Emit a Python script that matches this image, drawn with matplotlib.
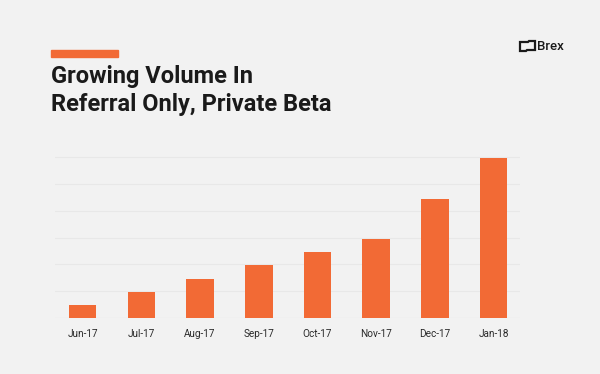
import matplotlib.pyplot as plt
from matplotlib.patches import Rectangle, Polygon

# monthly volume, in grid units
months = ['Jun-17', 'Jul-17', 'Aug-17', 'Sep-17', 'Oct-17', 'Nov-17', 'Dec-17', 'Jan-18']
volume = [0.47, 0.97, 1.46, 1.98, 2.46, 2.96, 4.45, 5.98]
gridlevels = [0, 1, 2, 3, 4, 5, 6]

bg = '#f2f2f2'
orange = '#f26a35'

fig = plt.figure(figsize=(6, 3.74), dpi=100, facecolor=bg)

# plot area: x 55..520 px, baseline at y=318, top grid at 157
ax = fig.add_axes([55 / 600, (374 - 318) / 374, 465 / 600, (318 - 157) / 374 * 7 / 6])
ax.set_facecolor(bg)
ax.bar(range(len(months)), volume, width=0.47, color=orange, zorder=3)
for g in gridlevels:
    ax.axhline(g, color='#e8e8e8' if g else '#dedede', lw=0.8, zorder=1)
ax.set_xlim(-0.47, 7.45)
ax.set_ylim(0, 7)
ax.set_xticks(range(len(months)))
ax.set_xticklabels(months, fontsize=7.2, color='#2a2a2a', family='Roboto')
ax.tick_params(axis='x', length=0, pad=8)
ax.set_yticks([])
for s in ax.spines.values():
    s.set_visible(False)

# title block
fig.patches.append(Rectangle((51 / 600, 1 - 57 / 374), 67 / 600, 7 / 374,
                             transform=fig.transFigure, color=orange))
fig.text(51 / 600, 1 - 111 / 374, 'Growing Volume In\nReferral Only, Private Beta',
         fontsize=17, fontweight='bold', family='Roboto', color='#1a1a1a',
         linespacing=1.3, va='baseline', ha='left')

# logo
icon = [(520, 42), (528, 42), (529, 41), (535, 41), (535, 50), (527, 50), (526, 51), (520, 51)]
fig.patches.append(Polygon([(x / 600, 1 - y / 374) for x, y in icon], closed=True,
                           transform=fig.transFigure, fill=False, lw=1.6, ec='#1a1a1a'))
fig.text(537 / 600, 1 - 50 / 374, 'Brex', fontsize=9.5, fontweight='medium',
         family='Roboto', color='#1a1a1a', va='baseline', ha='left')

fig.savefig('out.png', dpi=100, facecolor=bg)
